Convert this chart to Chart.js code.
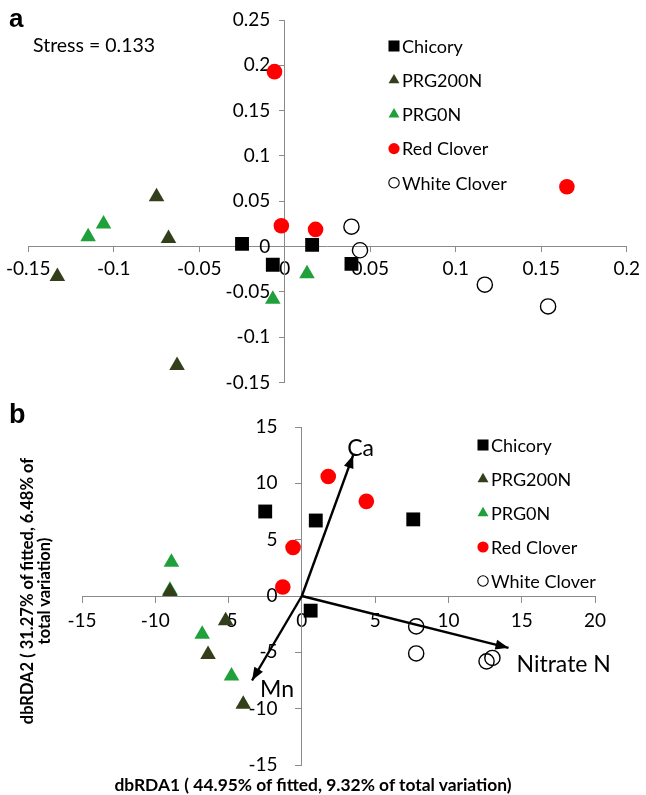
<!DOCTYPE html>
<html>
<head>
<meta charset="utf-8">
<title>NMDS and dbRDA ordination</title>
<script src="https://cdn.jsdelivr.net/npm/chart.js@4/dist/chart.umd.min.js"></script>
<style>
  body { margin: 0; background: #fff; width: 646px; height: 795px; position: relative; overflow: hidden; font-family: Lato, sans-serif; }
  canvas { position: absolute; left: 0; }
  #chartA { top: 0; }
  #chartB { top: 400px; }
  .txt { position: absolute; white-space: nowrap; color: #000; }
  #ytitle { left: 36px; top: 591px; transform: translate(-50%, -50%) rotate(-90deg); text-align: center; font-weight: bold; font-size: 16.5px; line-height: 17px; }
  #xtitle { left: 313px; top: 784px; transform: translate(-50%, -50%); font-weight: bold; font-size: 17.4px; }
</style>
</head>
<body>
<canvas id="chartA" width="646" height="400"></canvas>
<canvas id="chartB" width="646" height="395"></canvas>
<div class="txt" style="left:9px;top:3px;font:bold 26px Arial">a</div>
<div class="txt" style="left:33px;top:33px;font-size:19.5px">Stress = 0.133</div>
<div class="txt" style="left:9px;top:399px;font:bold 27px Arial">b</div>
<div class="txt" id="ytitle">dbRDA2 ( 31.27% of fitted, 6.48% of<br>total variation)</div>
<div class="txt" id="xtitle">dbRDA1 ( 44.95% of fitted, 9.32% of total variation)</div>
<script>
// forage species, in legend order
const speciesNames = ['Chicory', 'PRG200N', 'PRG0N', 'Red Clover', 'White Clover'];

// (a) NMDS scores, [x, y]
const nmdsChicory = [[-0.025, 0.003], [-0.007, -0.020], [0.016, 0.002], [0.039, -0.019]];
const nmdsPrg200n = [[-0.075, 0.055], [-0.068, 0.009], [-0.133, -0.033], [-0.063, -0.131]];
const nmdsPrg0n   = [[-0.106, 0.025], [-0.115, 0.011], [-0.007, -0.058], [0.013, -0.030]];
const nmdsRed     = [[-0.006, 0.193], [-0.002, 0.023], [0.018, 0.019], [0.165, 0.066]];
const nmdsWhite   = [[0.039, 0.022], [0.044, -0.004], [0.117, -0.042], [0.154, -0.066]];
const nmdsXTicks = [-0.15, -0.1, -0.05, 0, 0.05, 0.1, 0.15, 0.2];
const nmdsYTicks = [-0.15, -0.1, -0.05, 0, 0.05, 0.1, 0.15, 0.2, 0.25];

// (b) dbRDA scores, [x, y]
const rdaChicory = [[-2.5, 7.5], [0.95, 6.7], [0.6, -1.3], [7.6, 6.8]];
const rdaPrg200n = [[-9.0, 0.4], [-5.2, -2.2], [-6.4, -5.2], [-4.0, -9.6]];
const rdaPrg0n   = [[-8.9, 3.0], [-9.0, 0.5], [-6.8, -3.4], [-4.8, -7.1]];
const rdaRed     = [[1.8, 10.6], [4.4, 8.4], [-0.6, 4.3], [-1.3, 0.8]];
const rdaWhite   = [[7.8, -2.7], [7.8, -5.1], [12.6, -5.8], [13.0, -5.5]];
const rdaXTicks = [-15, -10, -5, 0, 5, 10, 15, 20];
const rdaYTicks = [-15, -10, -5, 0, 5, 10, 15];

// environmental vectors fitted on the dbRDA
const vectorNames = ['Ca', 'Nitrate N', 'Mn'];
const vectorX = [3.5, 14.1, -3.4];
const vectorY = [12.5, -4.6, -7.5];

const AXIS_GREY = '#8a8a8a';
const markerStyles = [
  { pointStyle: 'rect',     pointRadius: 9.8, backgroundColor: '#000000', borderColor: '#000000', borderWidth: 0 },
  { pointStyle: 'triangle', pointRadius: 9,   backgroundColor: '#333f1b', borderColor: '#333f1b', borderWidth: 0 },
  { pointStyle: 'triangle', pointRadius: 9,   backgroundColor: '#20a03a', borderColor: '#20a03a', borderWidth: 0 },
  { pointStyle: 'circle',   pointRadius: 7.8, backgroundColor: '#ff0000', borderColor: '#ff0000', borderWidth: 0 },
  { pointStyle: 'circle',   pointRadius: 7.6, backgroundColor: 'rgba(0,0,0,0)', borderColor: '#000000', borderWidth: 1.4 }
];
// smaller glyphs for the legend
const keyRadius = [7.8, 6.3, 6.3, 5.6, 5.2];

function speciesSets(groups) {
  return groups.map((pts, i) => Object.assign({
    label: speciesNames[i],
    data: pts.map(p => ({ x: p[0], y: p[1] })),
    pointHoverRadius: markerStyles[i].pointRadius
  }, markerStyles[i]));
}

// axis crossing at zero; gap pads the y labels away from the axis line
function axis(ticksArr, pos, size, pad, tickLen, gap) {
  return {
    type: 'linear',
    min: ticksArr[0],
    max: ticksArr[ticksArr.length - 1],
    position: pos,
    afterBuildTicks: s => { s.ticks = ticksArr.map(v => ({ value: v })); },
    afterFit: s => { if (s.isHorizontal()) s.height = 0; else s.width = 0; },
    ticks: { autoSkip: false, maxRotation: 0, color: '#000', padding: pad,
             font: { family: 'Lato', size: size }, callback: v => String(v) + (gap || '') },
    grid: { drawOnChartArea: false, drawTicks: true, tickLength: tickLen, color: AXIS_GREY, lineWidth: 1 },
    border: { display: true, color: AXIS_GREY, width: 1 }
  };
}

// legend drawn inside the plot area
const keyBox = {
  id: 'keyBox',
  afterDraw(chart, args, opts) {
    const ctx = chart.ctx;
    ctx.save();
    ctx.font = opts.size + 'px Lato';
    ctx.textBaseline = 'middle';
    ctx.textAlign = 'left';
    speciesNames.forEach((name, i) => {
      const st = markerStyles[i];
      const y = opts.y + i * opts.gap;
      ctx.fillStyle = st.backgroundColor;
      ctx.strokeStyle = st.borderColor;
      ctx.lineWidth = st.borderWidth * 0.8;
      Chart.helpers.drawPoint(ctx, { pointStyle: st.pointStyle, radius: keyRadius[i], borderWidth: st.borderWidth, rotation: 0 }, opts.x + 6, y);
      ctx.fillStyle = '#000';
      ctx.fillText(name, opts.x + 14, y + 1);
    });
    ctx.restore();
  }
};

// arrow heads and names for the vector lines
const arrowHeads = {
  id: 'arrowHeads',
  afterDatasetsDraw(chart, args, opts) {
    const ctx = chart.ctx;
    ctx.save();
    chart.data.datasets.forEach((ds, di) => {
      if (!ds.isVector) return;
      const pts = chart.getDatasetMeta(di).data;
      const x0 = pts[0].x, y0 = pts[0].y, x1 = pts[1].x, y1 = pts[1].y;
      const a = Math.atan2(y1 - y0, x1 - x0);
      const L = 13, W = 5;
      ctx.fillStyle = '#000';
      ctx.beginPath();
      ctx.moveTo(x1, y1);
      ctx.lineTo(x1 - L * Math.cos(a) + W * Math.sin(a), y1 - L * Math.sin(a) - W * Math.cos(a));
      ctx.lineTo(x1 - L * Math.cos(a) - W * Math.sin(a), y1 - L * Math.sin(a) + W * Math.cos(a));
      ctx.closePath();
      ctx.fill();
      const off = opts.offsets[ds.vectorIndex];
      ctx.font = opts.size + 'px Lato';
      ctx.textAlign = 'left';
      ctx.textBaseline = 'middle';
      ctx.fillText(ds.label, x1 + off[0], y1 + off[1]);
    });
    ctx.restore();
  }
};

const baseOpts = {
  responsive: false,
  animation: false,
  devicePixelRatio: 1,
  plugins: { legend: { display: false }, tooltip: { enabled: false } }
};

new Chart(document.getElementById('chartA'), {
  type: 'scatter',
  data: { datasets: speciesSets([nmdsChicory, nmdsPrg200n, nmdsPrg0n, nmdsRed, nmdsWhite]) },
  options: Object.assign({}, baseOpts, {
    layout: { padding: { left: 28, right: 13, top: 20, bottom: 15 } },
    scales: {
      x: axis(nmdsXTicks, { y: 0 }, 19, 6, 5),
      y: axis(nmdsYTicks, { x: 0 }, 19, 6, 5, '   ')
    },
    plugins: Object.assign({}, baseOpts.plugins, { keyBox: { x: 388, y: 46, gap: 34.2, size: 18 } })
  }),
  plugins: [keyBox]
});

const vectorSets = vectorNames.map((name, i) => ({
  label: name,
  isVector: true,
  vectorIndex: i,
  data: [{ x: 0, y: 0 }, { x: vectorX[i], y: vectorY[i] }],
  showLine: true,
  borderColor: '#000',
  borderWidth: 2.4,
  pointRadius: 0,
  pointHoverRadius: 0
}));

new Chart(document.getElementById('chartB'), {
  type: 'scatter',
  data: { datasets: speciesSets([rdaChicory, rdaPrg200n, rdaPrg0n, rdaRed, rdaWhite]).concat(vectorSets) },
  options: Object.assign({}, baseOpts, {
    layout: { padding: { left: 82, right: 51, top: 27, bottom: 30 } },
    scales: {
      x: axis(rdaXTicks, { y: 0 }, 19, 7, 6),
      y: axis(rdaYTicks, { x: 0 }, 19, 10, 6, '     ')
    },
    plugins: Object.assign({}, baseOpts.plugins, {
      keyBox: { x: 477, y: 45, gap: 34, size: 18 },
      arrowHeads: { size: 23, offsets: [[-6, -7], [8, 17], [8, 9]] }
    })
  }),
  plugins: [keyBox, arrowHeads]
});
</script>
</body>
</html>
